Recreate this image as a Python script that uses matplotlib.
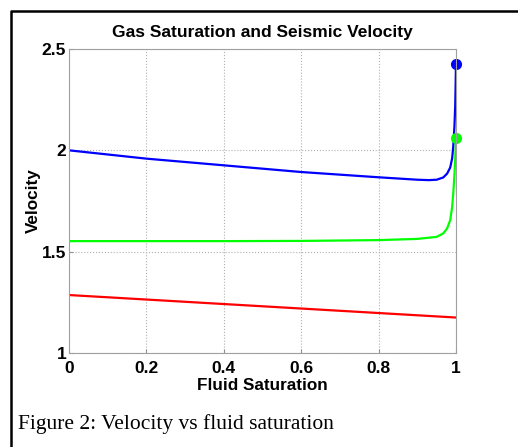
import matplotlib
matplotlib.use('Agg')
import matplotlib.pyplot as plt
from matplotlib.lines import Line2D

# data
sat_blue = [0.0, 0.2, 0.4, 0.6, 0.8, 0.9, 0.93, 0.95, 0.967, 0.977, 0.985, 0.99, 0.993, 0.996, 0.998, 1.0]
vel_blue = [2.0, 1.959, 1.926, 1.893, 1.867, 1.855, 1.853, 1.855, 1.866, 1.885, 1.915, 1.96, 2.02, 2.12, 2.22, 2.425]

sat_green = [0.0, 0.2, 0.4, 0.6, 0.8, 0.9, 0.95, 0.967, 0.977, 0.985, 0.99, 0.993, 0.996, 0.998, 1.0]
vel_green = [1.552, 1.552, 1.552, 1.553, 1.557, 1.563, 1.573, 1.59, 1.615, 1.655, 1.72, 1.79, 1.88, 1.96, 2.06]

sat_red = [0.0, 1.0]
vel_red = [1.286, 1.175]

xticks = [0, 0.2, 0.4, 0.6, 0.8, 1]
xtick_labels = ['0', '0.2', '0.4', '0.6', '0.8', '1']
yticks = [1, 1.5, 2, 2.5]
ytick_labels = ['1', '1.5', '2', '2.5']

plt.rcParams['font.family'] = ['Liberation Sans', 'DejaVu Sans']

fig = plt.figure(figsize=(5.18, 4.47), dpi=100)
ax = fig.add_axes([69 / 518, 1 - 353 / 447, 387 / 518, 304 / 447])

ax.plot(sat_blue, vel_blue, color='#0000ff', lw=1.6)
ax.plot(sat_green, vel_green, color='#00ff00', lw=1.6)
ax.plot(sat_red, vel_red, color='#ff0000', lw=1.6)
ax.plot([sat_blue[-1]], [vel_blue[-1]], 'o', color='#0000ff', ms=7, clip_on=False)
ax.plot([sat_green[-1]], [vel_green[-1]], 'o', color='#00ff00', ms=7, clip_on=False)

ax.set_xlim(0, 1)
ax.set_ylim(1, 2.5)
ax.set_xticks(xticks)
ax.set_xticklabels(xtick_labels, fontweight='bold', fontsize=12.5)
ax.set_yticks(yticks)
ax.set_yticklabels(ytick_labels, fontweight='bold', fontsize=12.5)
ax.tick_params(direction='in', length=3, color='#909090')
ax.tick_params(axis='y', pad=2)
ax.tick_params(axis='x', pad=6)
ax.grid(True, linestyle=':', color='#b0b0b0', lw=0.8)
for s in ax.spines.values():
    s.set_color('#a0a0a0')

ax.set_title('Gas Saturation and Seismic Velocity', fontweight='bold', fontsize=12.5, pad=9)
ax.set_xlabel('Fluid Saturation', fontweight='bold', fontsize=12.3, labelpad=1)
ax.set_ylabel('Velocity', fontweight='bold', fontsize=12.3, labelpad=1)

# frame of the document figure
fig.add_artist(Line2D([11 / 518, 11 / 518, 1.0], [0.0, 1 - 11 / 447, 1 - 11 / 447],
                      transform=fig.transFigure, color='black', lw=1.8))
fig.text(18 / 518, 1 - 424 / 447, 'Figure 2: Velocity vs fluid saturation',
         family=['Liberation Serif', 'DejaVu Serif'], fontsize=15.5, va='center')

fig.savefig('out.png', dpi=100)
